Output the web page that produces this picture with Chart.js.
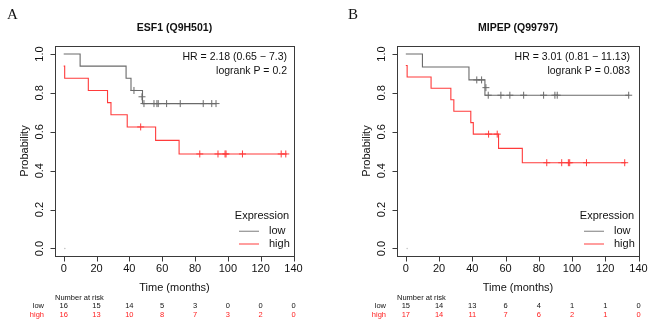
<!DOCTYPE html>
<html><head><meta charset="utf-8">
<script src="https://cdn.jsdelivr.net/npm/chart.js@4.4.1/dist/chart.umd.min.js"></script>
<style>
html,body{margin:0;padding:0;background:#fff;width:669px;height:322px;overflow:hidden}
.p{position:absolute;top:0}
canvas{display:block}
</style></head><body>
<div class="p" style="left:0"><canvas id="cA" width="335" height="322"></canvas></div>
<div class="p" style="left:335px"><canvas id="cB" width="334" height="322"></canvas></div>
<script>
// ---- shared axis data ----
const xTicks = [0, 20, 40, 60, 80, 100, 120, 140];
const yTicks = [0.0, 0.2, 0.4, 0.6, 0.8, 1.0];
const yTickLabels = ['0.0', '0.2', '0.4', '0.6', '0.8', '1.0'];
const riskTimes = [0, 20, 40, 60, 80, 100, 120, 140];
const groupNames = ['low', 'high'];

// ---- Panel A : ESF1 (Q9H501) ----
const aTitle = 'ESF1 (Q9H501)';
const aHR = 'HR = 2.18 (0.65 \u2212 7.3)';
const aP = 'logrank P = 0.2';
const aLowTime = [0, 10, 38, 41, 48, 92.8];
const aLowSurv = [1, 0.9375, 0.875, 0.8125, 0.745, 0.745];
const aLowCensTime = [42.8, 47.7, 48.9, 55, 56.8, 57.6, 62.7, 71, 85, 90.2, 92.8];
const aLowCensSurv = [0.8125, 0.78, 0.745, 0.745, 0.745, 0.745, 0.745, 0.745, 0.745, 0.745, 0.745];
const aHighTime = [0, 0.6, 15, 26.7, 28.8, 38.7, 56, 70.3, 136];
const aHighSurv = [0.9375, 0.875, 0.8125, 0.75, 0.6875, 0.625, 0.556, 0.486, 0.486];
const aHighCensTime = [46.9, 82.9, 94, 98.3, 98.9, 108.9, 132.5, 135.3];
const aHighCensSurv = [0.625, 0.486, 0.486, 0.486, 0.486, 0.486, 0.486, 0.486];
const aRiskLow = [16, 15, 14, 5, 3, 0, 0, 0];
const aRiskHigh = [16, 13, 10, 8, 7, 3, 2, 0];
const aDotTime = [0.7];
const aDotSurv = [0];

// ---- Panel B : MIPEP (Q99797) ----
const bTitle = 'MIPEP (Q99797)';
const bHR = 'HR = 3.01 (0.81 \u2212 11.13)';
const bP = 'logrank P = 0.083';
const bLowTime = [0, 10, 38, 47.6, 134.4];
const bLowSurv = [1, 0.9333, 0.8667, 0.788, 0.788];
const bLowCensTime = [42.7, 45.6, 48.2, 49.6, 57.2, 62.6, 70.9, 82.9, 89.7, 91.1, 134.1];
const bLowCensSurv = [0.8667, 0.8667, 0.827, 0.788, 0.788, 0.788, 0.788, 0.788, 0.788, 0.788, 0.788];
const bHighTime = [0, 0.8, 15.2, 27.1, 28.9, 39.1, 40.6, 55.8, 70.1, 132.5];
const bHighSurv = [0.941, 0.882, 0.824, 0.765, 0.706, 0.647, 0.588, 0.515, 0.441, 0.441];
const bHighCensTime = [49.8, 55, 84.8, 93.8, 97.8, 98.6, 108.7, 131.7];
const bHighCensSurv = [0.588, 0.588, 0.441, 0.441, 0.441, 0.441, 0.441, 0.441];
const bRiskLow = [15, 14, 13, 6, 4, 1, 1, 0];
const bRiskHigh = [17, 14, 11, 7, 6, 2, 1, 0];
const bDotTime = [0.8];
const bDotSurv = [0];

const LOW_COL = '#6a6a6a';
const HIGH_COL = '#ff3b3b';
const SANS = '"Liberation Sans", Arial, sans-serif';

function pts(t, s) { return t.map((v, i) => ({ x: v, y: s[i] })); }

const kmPlugin = {
  id: 'km',
  beforeDatasetsDraw(chart) {
    const o = chart.options.plugins.km;
    const ctx = chart.ctx, a = chart.chartArea;
    const xs = chart.scales.x, ys = chart.scales.y;
    ctx.save();
    ctx.strokeStyle = '#3a3a3a';
    ctx.lineWidth = 1;
    const L = Math.round(a.left) + 0.5, R = Math.round(a.right) + 0.5;
    const T = Math.round(a.top) + 0.5, B = Math.round(a.bottom) + 0.5;
    ctx.strokeRect(L, T, R - L, B - T);
    // y ticks
    ctx.beginPath();
    yTicks.forEach(v => { const y = Math.round(ys.getPixelForValue(v)) + 0.5; ctx.moveTo(L, y); ctx.lineTo(L - 5, y); });
    // x ticks
    xTicks.forEach(v => { const x = Math.round(xs.getPixelForValue(v)) + 0.5; ctx.moveTo(x, B); ctx.lineTo(x, B + 5); });
    ctx.stroke();
    ctx.restore();
  },
  afterDraw(chart) {
    const o = chart.options.plugins.km;
    const ctx = chart.ctx, a = chart.chartArea;
    const xs = chart.scales.x, ys = chart.scales.y;
    ctx.save();
    ctx.fillStyle = '#111';
    // y tick labels (rotated)
    ctx.font = '11px ' + SANS;
    ctx.textAlign = 'center'; ctx.textBaseline = 'middle';
    yTicks.forEach((v, i) => {
      ctx.save();
      ctx.translate(a.left - 15.5, ys.getPixelForValue(v));
      ctx.rotate(-Math.PI / 2);
      ctx.fillText(yTickLabels[i], 0, 0);
      ctx.restore();
    });
    // y title
    ctx.save();
    ctx.translate(a.left - 30, (a.top + a.bottom) / 2);
    ctx.rotate(-Math.PI / 2);
    ctx.fillText('Probability', 0, 0);
    ctx.restore();
    // x tick labels
    xTicks.forEach(v => ctx.fillText(String(v), xs.getPixelForValue(v), a.bottom + 13));
    ctx.fillText('Time (months)', (a.left + a.right) / 2, a.bottom + 31.5);
    // title
    ctx.font = 'bold 10.5px ' + SANS;
    ctx.fillText(o.title, (a.left + a.right) / 2, a.top - 18);
    // panel letter
    ctx.font = '15px "Liberation Serif", "Times New Roman", serif';
    ctx.textAlign = 'left';
    ctx.fillText(o.letter, o.letterX, 15.5);
    // HR text
    ctx.font = '10.5px ' + SANS;
    ctx.textAlign = 'right';
    ctx.fillText(o.hr, a.right - o.hrOff, a.top + 10.7);
    ctx.fillText(o.p, a.right - o.hrOff, a.top + 25);
    // legend
    ctx.font = '11px ' + SANS;
    ctx.textAlign = 'center';
    ctx.fillText('Expression', a.right - 32, a.top + 170);
    ctx.textAlign = 'left';
    const legCols = ['#9a9a9a', '#ff6a6a'];
    groupNames.forEach((g, i) => {
      const y = a.top + 185.3 + i * 12.7;
      ctx.strokeStyle = legCols[i]; ctx.lineWidth = 1.3;
      ctx.beginPath(); ctx.moveTo(a.right - 55, y); ctx.lineTo(a.right - 35, y); ctx.stroke();
      ctx.fillText(g, a.right - 25, y);
    });
    // number at risk
    ctx.font = '7.5px ' + SANS;
    ctx.textAlign = 'left';
    ctx.fillStyle = '#111';
    ctx.fillText('Number at risk', a.left, a.bottom + 41.5);
    const rows = [o.riskLow, o.riskHigh];
    const rowCols = ['#111', '#ff2020'];
    rows.forEach((r, i) => {
      const y = a.bottom + 50 + i * 9.3;
      ctx.fillStyle = rowCols[i];
      ctx.textAlign = 'right';
      ctx.fillText(groupNames[i], a.left - 11, y);
      ctx.textAlign = 'center';
      r.forEach((n, j) => ctx.fillText(String(n), xs.getPixelForValue(riskTimes[j]), y));
    });
    ctx.restore();
  }
};

function makeChart(id, d) {
  return new Chart(document.getElementById(id), {
    type: 'line',
    data: {
      datasets: [
        { data: pts(d.dotT, d.dotS), showLine: false, pointRadius: 0.7, pointBackgroundColor: '#bbb', pointBorderWidth: 0 },
        { data: pts(d.lowT, d.lowS), stepped: true, borderColor: LOW_COL, borderWidth: 1.1, pointRadius: 0, fill: false },
        { data: pts(d.highT, d.highS), stepped: true, borderColor: HIGH_COL, borderWidth: 1.1, pointRadius: 0, fill: false },
        { data: pts(d.lowCT, d.lowCS), showLine: false, pointStyle: 'cross', pointRadius: 3.5, borderColor: LOW_COL, pointBorderColor: LOW_COL, pointBorderWidth: 1 },
        { data: pts(d.highCT, d.highCS), showLine: false, pointStyle: 'cross', pointRadius: 3.5, borderColor: HIGH_COL, pointBorderColor: HIGH_COL, pointBorderWidth: 1 }
      ]
    },
    options: {
      responsive: false, animation: false, devicePixelRatio: 1,
      layout: { padding: d.pad },
      scales: {
        x: { type: 'linear', display: false, min: -5.3, max: 140.3 },
        y: { type: 'linear', display: false, min: -0.0386, max: 1.0411 }
      },
      plugins: {
        legend: { display: false }, tooltip: { enabled: false },
        km: { title: d.title, letter: d.letter, letterX: d.letterX, hr: d.hr, p: d.p, hrOff: d.hrOff, riskLow: d.riskLow, riskHigh: d.riskHigh }
      }
    },
    plugins: [kmPlugin]
  });
}

makeChart('cA', {
  title: aTitle, letter: 'A', letterX: 7, hr: aHR, p: aP, hrOff: 7,
  lowT: aLowTime, lowS: aLowSurv, highT: aHighTime, highS: aHighSurv,
  lowCT: aLowCensTime, lowCS: aLowCensSurv, highCT: aHighCensTime, highCS: aHighCensSurv,
  dotT: aDotTime, dotS: aDotSurv, riskLow: aRiskLow, riskHigh: aRiskHigh,
  pad: { left: 55, right: 41, top: 46, bottom: 66 }
});
makeChart('cB', {
  title: bTitle, letter: 'B', letterX: 13, hr: bHR, p: bP, hrOff: 9,
  lowT: bLowTime, lowS: bLowSurv, highT: bHighTime, highS: bHighSurv,
  lowCT: bLowCensTime, lowCS: bLowCensSurv, highCT: bHighCensTime, highCS: bHighCensSurv,
  dotT: bDotTime, dotS: bDotSurv, riskLow: bRiskLow, riskHigh: bRiskHigh,
  pad: { left: 62, right: 30, top: 46, bottom: 66 }
});
</script>
</body></html>
